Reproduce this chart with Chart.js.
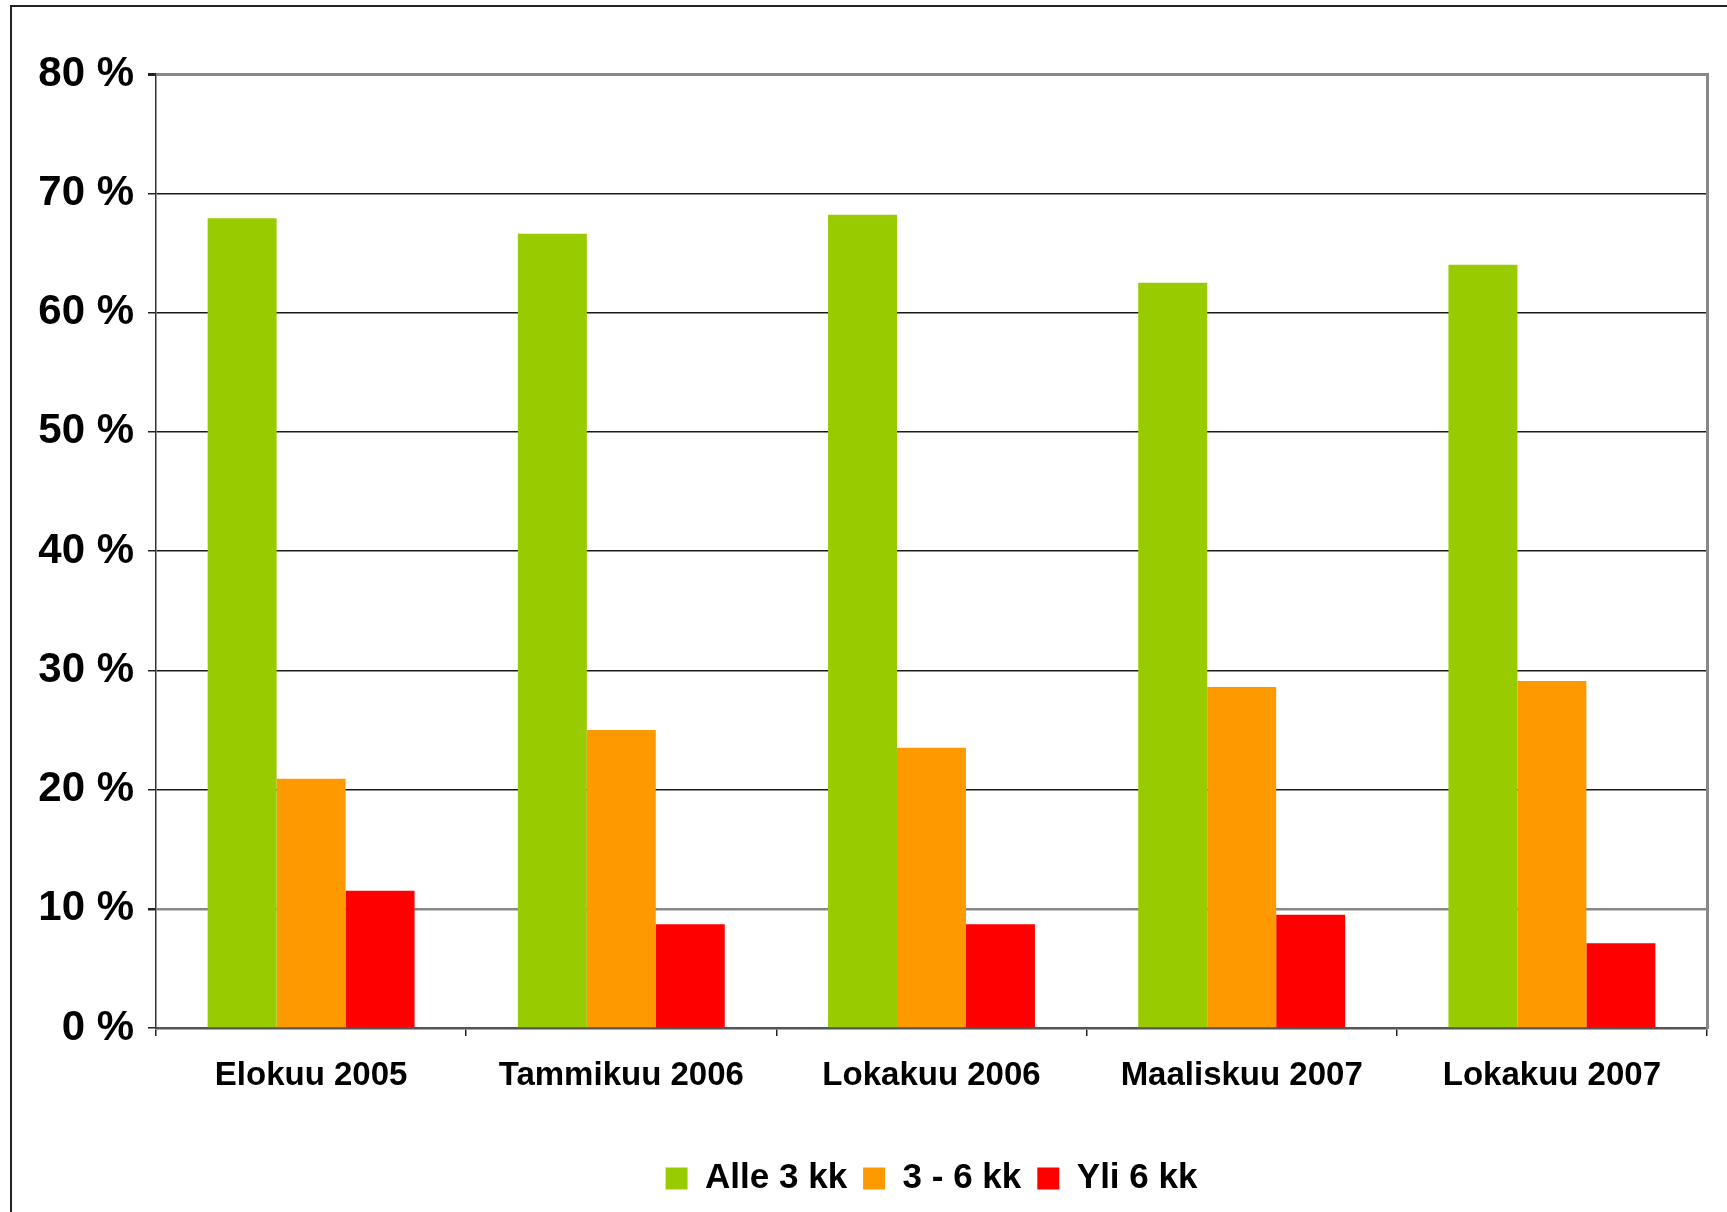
<!DOCTYPE html>
<html>
<head>
<meta charset="utf-8">
<script src="https://cdn.jsdelivr.net/npm/chart.js@4"></script>
<style>
    body { margin: 0; background: #fff; overflow: hidden; }
    #wrap { position: relative; width: 1727px; height: 1212px; }
    #frame {
        position: absolute; left: 10px; top: 5px; right: -10px; bottom: -10px;
        border-left: 2px solid #222; border-top: 2px solid #222;
    }
</style>
</head>
<body>
<div id="wrap">
    <div id="frame"></div>
    <canvas id="durationChart"></canvas>
</div>
<script>
// Data
const categories = ['Elokuu 2005', 'Tammikuu 2006', 'Lokakuu 2006', 'Maaliskuu 2007', 'Lokakuu 2007'];
const seriesNames = ['Alle 3 kk', '3 - 6 kk', 'Yli 6 kk'];
const under3 = [67.9, 66.6, 68.2, 62.5, 64.0];
const from3to6 = [20.9, 25.0, 23.5, 28.6, 29.1];
const over6 = [11.5, 8.7, 8.7, 9.5, 7.1];
const yTicks = [0, 10, 20, 30, 40, 50, 60, 70, 80];

const fontFamily = "'Liberation Sans Narrow', 'Liberation Sans', Arial, sans-serif";

const ctx = document.getElementById('durationChart').getContext('2d');
const chart = new Chart(ctx, {
    type: 'bar',
    data: {
        labels: categories,
        datasets: [
            { label: seriesNames[0], data: under3, backgroundColor: '#99CC00' },
            { label: seriesNames[1], data: from3to6, backgroundColor: '#FF9900' },
            { label: seriesNames[2], data: over6, backgroundColor: '#FF0000' }
        ]
    },
    options: {
        responsive: true,
        maintainAspectRatio: false,
        animation: false,
        categoryPercentage: 0.667,
        barPercentage: 1.0,
        layout: { padding: { left: 0, right: 20, top: 74, bottom: 6 } },
        plugins: {
            tooltip: { enabled: false },
            legend: {
                position: 'bottom',
                fullSize: false,
                labels: {
                    color: '#000',
                    font: { family: fontFamily, size: 35, weight: 'bold' },
                    boxWidth: 22,
                    boxHeight: 22,
                    padding: 16
                }
            }
        },
        scales: {
            x: {
                grid: {
                    offset: true,
                    drawOnChartArea: false,
                    color: '#222',
                    tickLength: 8,
                    lineWidth: 1.5
                },
                border: { color: '#555', width: 2.5 },
                ticks: {
                    color: '#000',
                    padding: 20,
                    maxRotation: 0,
                    font: { family: fontFamily, size: 33, weight: 'bold' }
                },
                afterFit: function(scale) { scale.height = 117; }
            },
            y: {
                min: 0,
                max: 80,
                afterBuildTicks: function(scale) {
                    scale.ticks = yTicks.map(v => ({ value: v }));
                },
                grid: {
                    color: function(c) {
                        const v = c.tick ? c.tick.value : null;
                        return (v === 80 || v === 10) ? '#888' : '#1a1a1a';
                    },
                    lineWidth: function(c) {
                        const v = c.tick ? c.tick.value : null;
                        if (v === 80) return 3;
                        if (v === 10) return 2.5;
                        return 1.5;
                    },
                    tickColor: '#222',
                    tickLength: 8
                },
                border: { color: '#333', width: 1.5 },
                ticks: {
                    color: '#000',
                    padding: 14,
                    font: { family: fontFamily, size: 42, weight: 'bold' },
                    callback: function(value) { return value + ' %'; }
                },
                afterFit: function(scale) { scale.width = 156; }
            },
            yRight: {
                position: 'right',
                min: 0,
                max: 80,
                grid: { display: false, drawTicks: false },
                ticks: { display: false },
                border: { color: '#888', width: 3 },
                afterFit: function(scale) { scale.width = 0; }
            }
        }
    }
});
</script>
</body>
</html>
